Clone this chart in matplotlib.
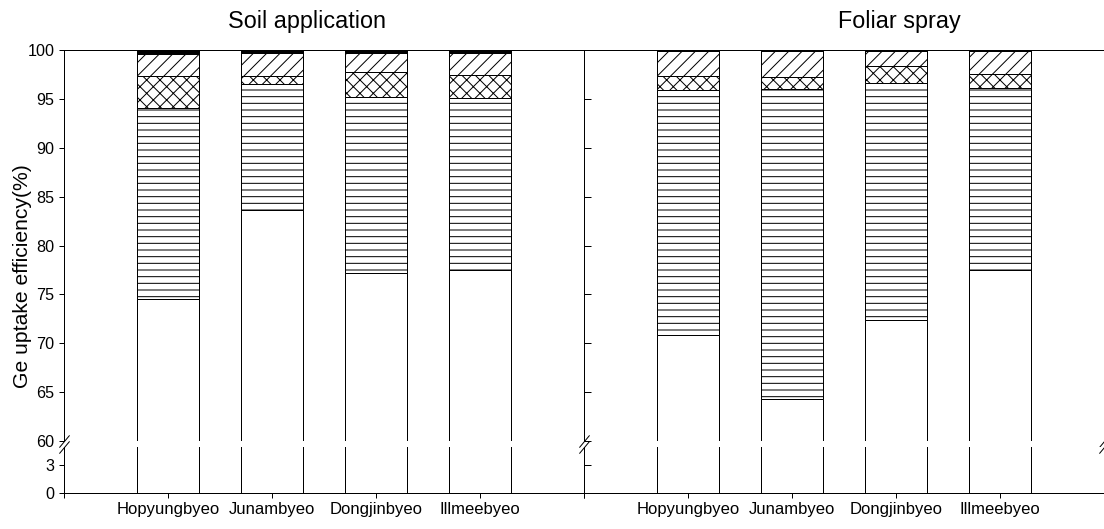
import numpy as np
import matplotlib
matplotlib.use('Agg')
import matplotlib.pyplot as plt

plt.rcParams['font.family'] = ['Liberation Sans', 'DejaVu Sans']
plt.rcParams['hatch.linewidth'] = 0.9
plt.rcParams['hatch.color'] = 'black'

cultivars = ['Hopyungbyeo', 'Junambyeo', 'Dongjinbyeo', 'Illmeebyeo']

# fractions of Ge uptake (%), bottom to top of each bar
soil_white = [74.5, 83.6, 77.2, 77.5]
soil_horiz = [19.6, 12.9, 18.0, 17.6]
soil_cross = [3.2, 0.8, 2.5, 2.3]
soil_diag = [2.3, 2.4, 1.95, 2.3]
soil_black = [0.4, 0.3, 0.35, 0.3]

foliar_white = [70.8, 64.3, 72.4, 77.5]
foliar_horiz = [25.1, 31.7, 24.2, 18.6]
foliar_cross = [1.4, 1.2, 1.8, 1.4]
foliar_diag = [2.55, 2.65, 1.45, 2.35]
foliar_black = [0.15, 0.15, 0.15, 0.15]

titles = ['Soil application', 'Foliar spray']
yticks_top = [60, 65, 70, 75, 80, 85, 90, 95, 100]
yticks_bot = [0, 3]

hatches = ['', '--', 'xx', '//', '']
faces = ['white', 'white', 'white', 'white', 'black']

W, H, dpi = 1104, 529, 80
fig = plt.figure(figsize=(W / dpi, H / dpi), dpi=dpi)

def fx(px):
    return px / W

def fy(py):
    return (H - py) / H

def draw_bars(ax, layers):
    x = np.arange(1, len(cultivars) + 1)
    bottom = np.zeros(len(cultivars))
    for vals, h, fc in zip(layers, hatches, faces):
        ax.bar(x, vals, 0.6, bottom=bottom, facecolor=fc, edgecolor='black',
               linewidth=0.9, hatch=h)
        bottom = bottom + np.array(vals)

def break_marks(ax, pts):
    kw = dict(marker=[(-1, -1.2), (1, 1.2)], markersize=11, linestyle='none',
              color='k', mec='k', mew=0.9, clip_on=False)
    for p in pts:
        ax.plot([p[0]], [p[1]], transform=ax.transAxes, **kw)

all_layers = [[soil_white, soil_horiz, soil_cross, soil_diag, soil_black],
              [foliar_white, foliar_horiz, foliar_cross, foliar_diag, foliar_black]]
lefts = [64, 584]
title_x = [307, 899]

for i in range(2):
    axt = fig.add_axes([fx(lefts[i]), fy(441), 520 / W, 391 / H])
    axb = fig.add_axes([fx(lefts[i]), fy(493), 520 / W, 46 / H])
    draw_bars(axt, all_layers[i])
    draw_bars(axb, all_layers[i])
    for ax in (axt, axb):
        ax.set_xlim(0, 5)
        ax.spines['right'].set_visible(False)
        for s in ax.spines.values():
            s.set_linewidth(0.9)
    axt.set_ylim(60, 100)
    axb.set_ylim(0, 5)
    axt.spines['bottom'].set_visible(False)
    axb.spines['top'].set_visible(False)
    axt.set_xticks([])
    axt.set_yticks(yticks_top)
    axb.set_yticks(yticks_bot)
    axb.set_xticks(range(6))
    axb.set_xticklabels([''] + cultivars + [''], fontsize=15)
    axb.tick_params(axis='x', direction='out', length=4.5, width=0.9, pad=4)
    if i == 0:
        for ax in (axt, axb):
            ax.tick_params(axis='y', direction='out', length=4.5, width=0.9,
                           labelsize=14.5, pad=4)
        break_marks(axt, [(0, 0)])
        break_marks(axb, [(0, 1)])
    else:
        for ax in (axt, axb):
            ax.tick_params(axis='y', direction='in', length=6.3, width=0.9,
                           labelleft=False)
        break_marks(axt, [(0, 0), (1, 0)])
        break_marks(axb, [(0, 1), (1, 1)])
    fig.text(fx(title_x[i]), fy(28), titles[i], ha='center', va='baseline',
             fontsize=21)

fig.text(fx(23), fy(276), 'Ge uptake efficiency(%)', rotation=90,
         ha='center', va='center', fontsize=19)

fig.savefig('out.png', dpi=dpi)
